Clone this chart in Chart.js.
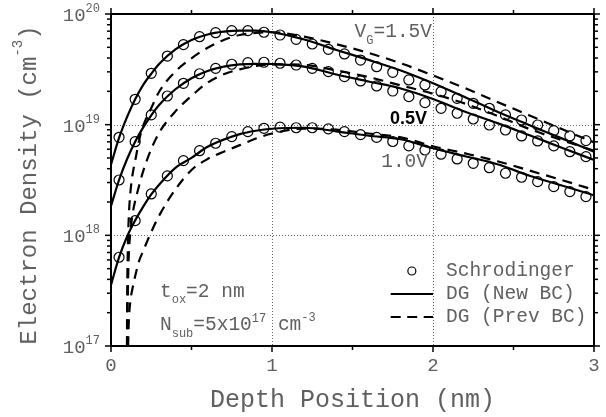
<!DOCTYPE html>
<html>
<head>
<meta charset="utf-8">
<title>Electron Density vs Depth</title>
<script src="https://cdn.jsdelivr.net/npm/chart.js@4.4.1/dist/chart.umd.min.js"></script>
<style>
  html, body { margin: 0; padding: 0; background: #fff; }
  canvas { display: block; }
</style>
</head>
<body>
<canvas id="densityChart" width="606" height="417"></canvas>
<script>
// depth positions (nm)
const depthSchr = [0.05, 0.15, 0.25, 0.35, 0.45, 0.55, 0.65, 0.75, 0.85, 0.95,
                   1.05, 1.15, 1.25, 1.35, 1.45, 1.55, 1.65, 1.75, 1.85, 1.95,
                   2.05, 2.15, 2.25, 2.35, 2.45, 2.55, 2.65, 2.75, 2.85, 2.95];
const depthNew = [0, 0.05, 0.1, 0.15, 0.2, 0.25, 0.3, 0.4, 0.5, 0.6, 0.7, 0.8,
                  0.9, 1.0, 1.2, 1.4, 1.6, 1.8, 2.0, 2.2, 2.4, 2.6, 2.8, 3.0];
const depthPrev = [0.095, 0.1, 0.105, 0.11, 0.12, 0.135, 0.15, 0.175, 0.2, 0.25,
                   0.3, 0.4, 0.5, 0.6, 0.7, 0.8, 0.9, 1.0, 1.2, 1.4, 1.6, 1.8,
                   2.0, 2.2, 2.4, 2.6, 2.8, 3.0];

// electron density, in units of 1e18 cm^-3 (top / middle / lower curve)
const schrTop = [7.691, 16.94, 29.11, 41.69, 52.84, 62.37, 67.76, 70.79, 70.79, 68.39,
                 64.57, 59.02, 53.58, 47.97, 43.55, 38.37, 33.42, 29.72, 25.35, 22.86,
                 19.86, 17.30, 15.60, 14.06, 12.25, 11.02, 9.931, 8.831, 7.907, 7.178];
const schrMid = [3.162, 7.015, 12.25, 18.16, 23.66, 28.84, 32.28, 35.16, 36.31, 36.64,
                 35.89, 34.59, 32.28, 30.13, 27.16, 24.83, 22.39, 20.14, 17.91, 15.81,
                 14.06, 12.68, 11.25, 9.931, 8.954, 7.907, 7.129, 6.427, 5.702, 5.140];
const schrLow = [0.6339, 1.358, 2.366, 3.443, 4.732, 5.821, 6.792, 7.798, 8.650, 9.268,
                 9.484, 9.376, 9.376, 9.162, 8.650, 8.128, 7.674, 7.047, 6.427, 5.902,
                 5.408, 4.898, 4.477, 4.083, 3.639, 3.350, 3.055, 2.754, 2.483, 2.239];

const newTop = [4.365, 7.586, 11.75, 16.98, 22.91, 28.84, 35.48, 47.86, 58.21, 65.31, 69.18, 70.79,
                70.79, 68.39, 58.88, 47.32, 38.46, 30.90, 23.71, 17.70, 13.09, 9.886, 7.516, 5.702];
const newMid = [1.845, 3.162, 4.898, 6.998, 9.441, 12.16, 15.14, 20.89, 26.30, 30.55, 33.50, 35.08,
                35.48, 35.32, 33.50, 28.38, 24.55, 21.23, 17.06, 13.06, 10.33, 8.017, 6.194, 4.797];
const newLow = [0.3565, 0.631, 0.977, 1.365, 1.820, 2.344, 2.884, 4.074, 5.012, 6.310, 7.328, 8.222,
                8.810, 9.183, 9.376, 8.710, 7.943, 7.379, 6.124, 5.188, 4.385, 3.459, 2.818, 2.301];

const prevTop = [0.001, 0.1995, 0.7943, 1.413, 2.399, 3.631, 4.677, 7.244, 9.772, 14.13,
                 19.95, 30.20, 39.81, 49.55, 58.21, 64.57, 67.61, 68.39, 62.37, 53.33, 44.46, 35.89,
                 27.86, 21.38, 16.03, 12.11, 9.120, 6.918];
const prevMid = [0.001, 0.07943, 0.3162, 0.6310, 1.047, 1.585, 2.042, 2.818, 3.802, 6.026,
                 8.511, 13.18, 18.20, 23.99, 28.51, 31.62, 33.88, 35.08, 34.67, 30.90, 26.92, 22.65,
                 19.05, 15.49, 12.02, 9.120, 7.244, 5.821];
const prevLow = [0.001, 0.02512, 0.07943, 0.1585, 0.2512, 0.3388, 0.4266, 0.5888, 0.7244, 1.072,
                 1.514, 2.600, 3.890, 4.898, 5.689, 6.531, 7.499, 8.318, 9.226, 9.016, 8.318, 7.674,
                 6.383, 5.495, 4.677, 3.846, 3.162, 2.570];

// axis ticks
const xTicks = [0, 1, 2, 3];
const xMinor = [0.5, 1.5, 2.5];
const yDecades = [17, 18, 19, 20];
const gridX = [1, 2];
const gridDecades = [18, 19];
const legendLabels = ['Schrodinger', 'DG (New BC)', 'DG (Prev BC)'];

const UNIT = 1e18;
const MONO = "'Liberation Mono', 'Courier New', monospace";
const GREY = '#606060';

const pts = (xs, ys) => xs.map((x, i) => ({ x: x, y: ys[i] * UNIT }));

const circles = ys => ({
  label: legendLabels[0],
  data: pts(depthSchr, ys),
  showLine: false,
  pointStyle: 'circle',
  pointRadius: 5,
  pointBorderWidth: 1.2,
  pointBorderColor: '#000',
  pointBackgroundColor: 'rgba(0,0,0,0)'
});
const curve = (label, xs, ys, dash) => ({
  label: label,
  data: pts(xs, ys),
  borderColor: '#000',
  borderWidth: 2.2,
  borderDash: dash,
  pointRadius: 0,
  fill: false,
  cubicInterpolationMode: 'monotone'
});

// text made of pieces (for sub/superscripts)
function richWidth(ctx, parts) {
  let w = 0;
  parts.forEach(p => {
    ctx.font = (p.weight || '') + ' ' + p.size + 'px ' + (p.family || MONO);
    w += ctx.measureText(p.text).width;
  });
  return w;
}
function drawRich(ctx, x, y, parts, align) {
  if (align === 'right') x -= richWidth(ctx, parts);
  if (align === 'center') x -= richWidth(ctx, parts) / 2;
  parts.forEach(p => {
    ctx.font = (p.weight || '') + ' ' + p.size + 'px ' + (p.family || MONO);
    ctx.fillText(p.text, x, y + (p.dy || 0));
    x += ctx.measureText(p.text).width;
  });
}

const framePlugin = {
  id: 'frame',
  beforeDraw(chart) {
    const ctx = chart.ctx;
    ctx.save();
    ctx.fillStyle = '#fff';
    ctx.fillRect(0, 0, chart.width, chart.height);
    ctx.restore();
  },
  beforeDatasetsDraw(chart) {
    const { ctx, chartArea: a, scales: { x, y } } = chart;
    ctx.save();
    ctx.strokeStyle = '#666';
    ctx.lineWidth = 1;
    ctx.setLineDash([1, 2]);
    gridX.forEach(v => {
      const px = Math.round(x.getPixelForValue(v)) + 0.5;
      ctx.beginPath(); ctx.moveTo(px, a.top); ctx.lineTo(px, a.bottom); ctx.stroke();
    });
    gridDecades.forEach(d => {
      const py = Math.round(y.getPixelForValue(Math.pow(10, d))) + 0.5;
      ctx.beginPath(); ctx.moveTo(a.left, py); ctx.lineTo(a.right, py); ctx.stroke();
    });
    ctx.restore();
  },
  afterDatasetsDraw(chart) {
    const { ctx, chartArea: a, scales: { x, y } } = chart;
    ctx.save();
    ctx.strokeStyle = '#000';
    ctx.lineWidth = 1.5;
    const seg = (x1, y1, x2, y2) => { ctx.beginPath(); ctx.moveTo(x1, y1); ctx.lineTo(x2, y2); ctx.stroke(); };

    // ticks on all four sides, pointing out
    xTicks.forEach(v => {
      const px = x.getPixelForValue(v);
      seg(px, a.bottom, px, a.bottom + 6); seg(px, a.top, px, a.top - 6);
    });
    xMinor.forEach(v => {
      const px = x.getPixelForValue(v);
      seg(px, a.bottom, px, a.bottom + 4); seg(px, a.top, px, a.top - 4);
    });
    yDecades.forEach((d, i) => {
      const py = y.getPixelForValue(Math.pow(10, d));
      seg(a.left - 6, py, a.left, py); seg(a.right, py, a.right + 6, py);
      if (i < yDecades.length - 1) {
        for (let m = 2; m <= 9; m++) {
          const pm = y.getPixelForValue(m * Math.pow(10, d));
          seg(a.left - 4, pm, a.left, pm); seg(a.right, pm, a.right + 4, pm);
        }
      }
    });
    ctx.lineWidth = 2;
    ctx.strokeRect(a.left, a.top, a.right - a.left, a.bottom - a.top);

    // tick labels
    ctx.fillStyle = GREY;
    ctx.textAlign = 'left';
    ctx.textBaseline = 'alphabetic';
    xTicks.forEach(v => drawRich(ctx, x.getPixelForValue(v), a.bottom + 25, [{ text: String(v), size: 19 }], 'center'));
    yDecades.forEach(d => {
      const py = y.getPixelForValue(Math.pow(10, d));
      drawRich(ctx, a.left - 11, py + 7, [{ text: '10', size: 19 }, { text: String(d), size: 12, dy: -9 }], 'right');
    });

    // axis titles
    drawRich(ctx, (a.left + a.right) / 2, 407, [{ text: 'Depth Position (nm)', size: 25 }], 'center');
    ctx.save();
    ctx.translate(36, 185);
    ctx.rotate(-Math.PI / 2);
    drawRich(ctx, 0, 0, [{ text: 'Electron Density (cm', size: 24 }, { text: '-3', size: 14, dy: -14 }, { text: ')', size: 24 }], 'center');
    ctx.restore();

    // curve annotations
    drawRich(ctx, 432, 37, [{ text: 'V', size: 19.5 }, { text: 'G', size: 12, dy: 7 }, { text: '=1.5V', size: 19.5 }], 'right');
    drawRich(ctx, 428, 166.5, [{ text: '1.0V', size: 19.5 }], 'right');
    ctx.fillStyle = '#000';
    drawRich(ctx, 427, 124, [{ text: '0.5V', size: 18, weight: 'bold', family: "'Liberation Sans', Arial, sans-serif" }], 'right');
    ctx.fillStyle = GREY;
    drawRich(ctx, 160, 297, [{ text: 't', size: 19.5 }, { text: 'ox', size: 12, dy: 6 }, { text: '=2 nm', size: 19.5 }]);
    drawRich(ctx, 160, 330, [{ text: 'N', size: 19.5 }, { text: 'sub', size: 12, dy: 6.5 }, { text: '=5x10', size: 19.5 },
      { text: '17', size: 12, dy: -8 }, { text: ' cm', size: 19.5 }, { text: '-3', size: 12, dy: -9 }]);

    // legend
    const lx1 = 390.7, lx2 = x.getPixelForValue(2), tx = 446;
    const rows = [271, 294, 317];
    ctx.strokeStyle = '#000';
    ctx.lineWidth = 1.2;
    ctx.beginPath(); ctx.arc((lx1 + lx2) / 2, rows[0], 4, 0, Math.PI * 2); ctx.stroke();
    ctx.lineWidth = 2.2;
    seg(lx1, rows[1], lx2, rows[1]);
    ctx.setLineDash([10, 6.5]);
    seg(lx1, rows[2], lx2, rows[2]);
    ctx.setLineDash([]);
    legendLabels.forEach((t, i) => drawRich(ctx, tx, rows[i] + 4.5, [{ text: t, size: 19.5 }]));
    ctx.restore();
  }
};

new Chart(document.getElementById('densityChart'), {
  type: 'line',
  data: {
    datasets: [
      circles(schrTop), circles(schrMid), circles(schrLow),
      curve(legendLabels[1], depthNew, newTop, []),
      curve(legendLabels[1], depthNew, newMid, []),
      curve(legendLabels[1], depthNew, newLow, []),
      curve(legendLabels[2], depthPrev, prevTop, [10, 7]),
      curve(legendLabels[2], depthPrev, prevMid, [10, 7]),
      curve(legendLabels[2], depthPrev, prevLow, [10, 7])
    ]
  },
  options: {
    responsive: false,
    devicePixelRatio: 1,
    animation: false,
    events: [],
    layout: { padding: { left: 111, right: 12, top: 14, bottom: 71 } },
    plugins: { legend: { display: false }, tooltip: { enabled: false } },
    scales: {
      x: { type: 'linear', min: 0, max: 3, display: false },
      y: { type: 'logarithmic', min: 1e17, max: 1e20, display: false }
    }
  },
  plugins: [framePlugin]
});
</script>
</body>
</html>
